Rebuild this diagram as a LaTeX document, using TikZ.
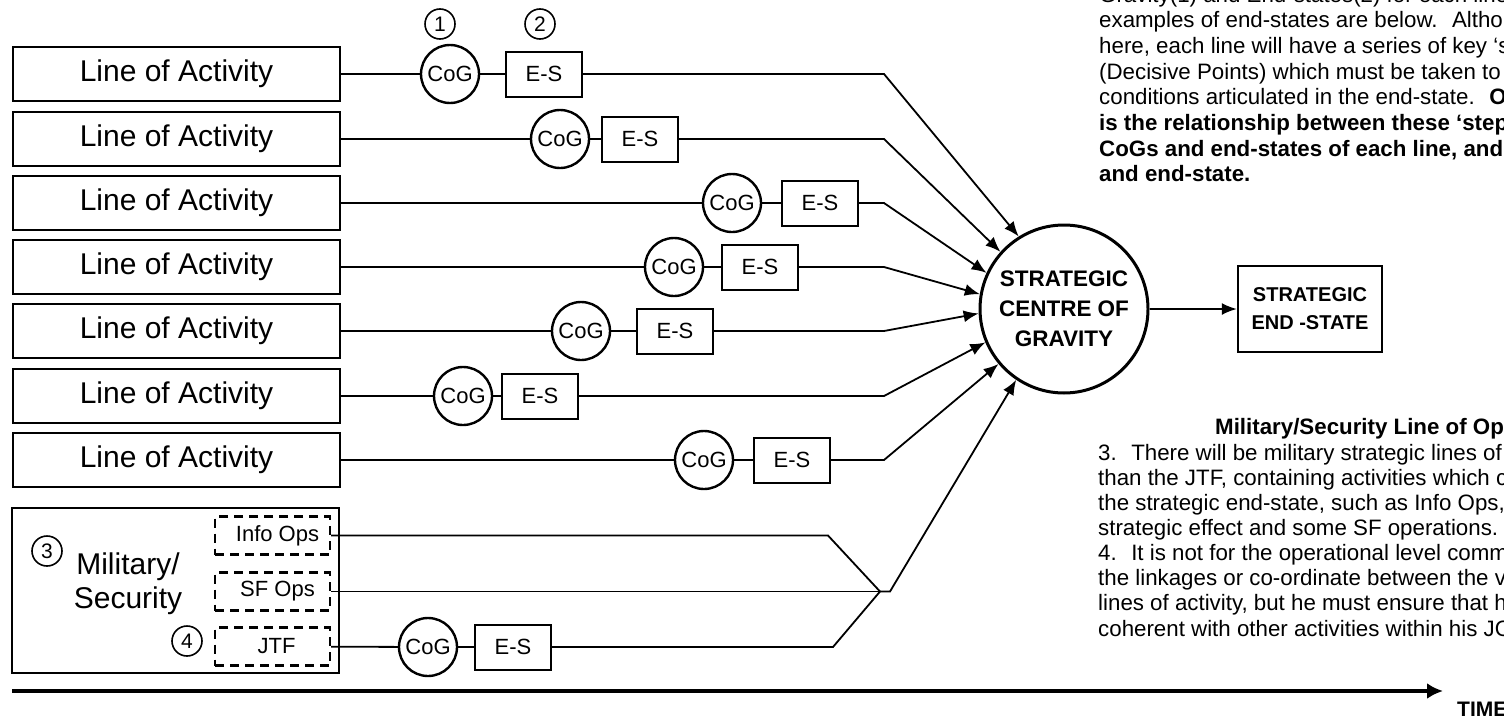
\documentclass[tikz,border=0pt]{standalone}
\usepackage{fontspec}
\setmainfont{Liberation Sans}
\usetikzlibrary{arrows.meta}

\begin{document}
\begin{tikzpicture}[x=1pt, y=-1pt, >={Latex[length=15pt,width=12pt]},
    loa/.style={draw, line width=2.8pt, minimum width=327pt, minimum height=54pt, inner sep=0pt, font=\fontsize{30}{34}\selectfont},
    cog/.style={draw, circle, line width=2.4pt, minimum size=58pt, inner sep=0pt, font=\fontsize{22}{24}\selectfont},
    es/.style={draw, line width=2pt, minimum width=76pt, minimum height=45pt, inner sep=0pt, font=\fontsize{22}{24}\selectfont},
    ops/.style={draw, dash pattern=on 9pt off 6pt, line width=2.4pt, minimum width=115pt, minimum height=38pt, inner sep=0pt, font=\fontsize{22}{24}\selectfont},
    num/.style={draw, circle, line width=1.6pt, minimum size=30pt, inner sep=0pt, font=\fontsize{21}{24}\selectfont},
    link/.style={line width=1.8pt},
    txt/.style={anchor=base west, inner sep=0pt, font=\fontsize{22.3}{25}\selectfont},
    btxt/.style={txt, font=\bfseries\fontsize{22.3}{25}\selectfont}]
\useasboundingbox (0,0) rectangle (1504,720);

% strategic centre of gravity and end-state
\node[circle, draw, line width=3pt, minimum size=168pt, inner sep=0pt, align=center,
      font=\bfseries\fontsize{22.5}{30}\selectfont] (scog) at (1064,309) {STRATEGIC\\CENTRE OF\\GRAVITY};
\node[draw, line width=2.4pt, minimum width=144pt, minimum height=86pt, align=center,
      font=\bfseries\fontsize{20}{28}\selectfont] (send) at (1310,309) {STRATEGIC\\END -STATE};
\draw[link,->] (scog.east) -- (send.west);

% lines of activity
\foreach \i/\y/\c/\e in {1/74/450/544, 2/139/560/640, 3/203/732/820, 4/267/674/760,
                         5/331/581/675, 6/396/463/540, 7/460/704/792}
{
    \node[loa] (l\i) at (176.5,\y) {Line of Activity};
    \node[cog] (c\i) at (\c,\y) {CoG};
    \node[es] (e\i) at (\e,\y) {E-S};
    \coordinate (b\i) at (884,\y);
    \draw[link] (l\i) -- (c\i) -- (e\i);
}
\foreach \i/\a in {1/122, 2/138, 3/155, 4/170, 5/183, 6/203, 7/220}
{
    \draw[link,->] (e\i) -- (b\i) -- (scog.\a);
}

% military / security
\node[draw, line width=2.8pt, minimum width=327pt, minimum height=165pt, inner sep=0pt] (mil) at (175.5,590.5) {};
\node[align=center, font=\fontsize{30}{34}\selectfont] (miltxt) at (128,584) {Military/\\Security};
\node[ops] (info) at (272.5,535.5) {\hspace{10pt}Info Ops};
\node[ops] (sf) at (272.5,591.5) {\hspace{10pt}SF Ops};
\node[ops] (jtf) at (272.5,646.5) {\hspace{8pt}JTF};
\node[cog] (c8) at (428,647) {CoG};
\node[es] (e8) at (513,647) {E-S};
\coordinate (mi) at (828,535.5);
\coordinate (mj) at (833,647);
\coordinate (mm) at (880,591.5);
\coordinate (mk) at (890,591.5);
\draw[link] (info) -- (mi) -- (mm);
\draw[link] (sf) -- (mm);
\draw[link] (jtf) -- (c8) -- (e8);
\draw[link] (e8) -- (mj) -- (mm);
\draw[link,->] (mm) -- (mk) -- (scog.236);

% numbered notes
\node[num] (n1) at (440,24) {1};
\node[num] (n2) at (540,24) {2};
\node[num] (n3) at (47,551) {3};
\node[num] (n4) at (187,641) {4};

% time axis
\coordinate (t0) at (12,691);
\coordinate (t1) at (1443,691);
\draw[line width=4pt, -{Latex[length=16pt,width=16pt]}] (t0) -- (t1);
\node[txt, font=\bfseries\fontsize{21}{24}\selectfont] (time) at (1457,716) {TIME};

% notes text
\node[txt] (p1) at (1099,2) {Gravity(1) and End-states(2) for each line};
\node[txt] (p2) at (1099,27.7) {examples of end-states are below.~ Althou};
\node[txt] (p3) at (1099,53.4) {here, each line will have a series of key ‘s};
\node[txt] (p4) at (1099,79.1) {(Decisive Points) which must be taken to};
\node[txt] (p5) at (1099,104.8) {conditions articulated in the end-state.~ \textbf{O}};
\node[btxt] (p6) at (1099,130.5) {is the relationship between these ‘step};
\node[btxt] (p7) at (1099,156.2) {CoGs and end-states of each line, and};
\node[btxt] (p8) at (1099,181.9) {and end-state.};

\node[btxt] (q0) at (1215,434) {Military/Security Line of Op};
\node[txt] (q1) at (1098,460) {3.~ There will be military strategic lines of};
\node[txt] (q2) at (1098,485) {than the JTF, containing activities which c};
\node[txt] (q3) at (1098,510) {the strategic end-state, such as Info Ops,};
\node[txt] (q4) at (1098,535) {strategic effect and some SF operations.};
\node[txt] (q5) at (1098,560.5) {4.~ It is not for the operational level comm};
\node[txt] (q6) at (1098,585.5) {the linkages or co-ordinate between the v};
\node[txt] (q7) at (1098,610.5) {lines of activity, but he must ensure that h};
\node[txt] (q8) at (1098,636) {coherent with other activities within his JO};
\end{tikzpicture}
\end{document}
